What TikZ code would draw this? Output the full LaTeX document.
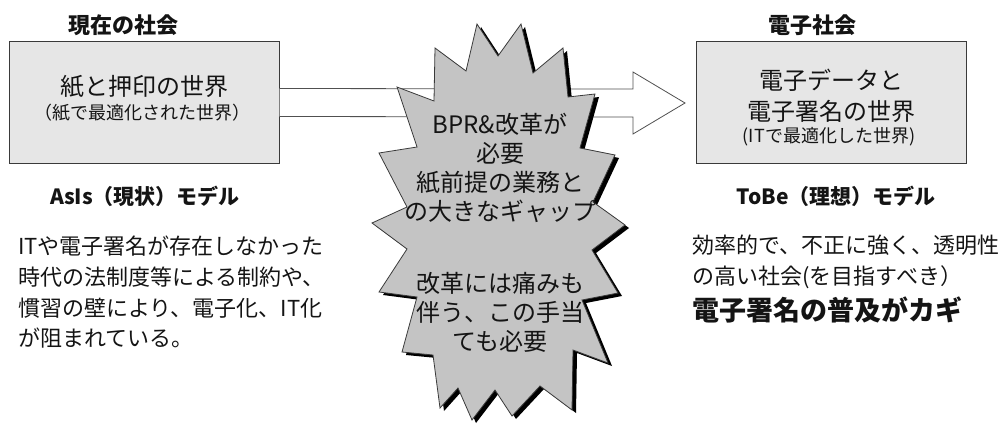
\documentclass[tikz,border=0pt]{standalone}
\usepackage{fontspec}
\setmainfont{Noto Sans CJK JP}
\usetikzlibrary{calc}
\definecolor{boxfill}{HTML}{E6E6E6}
\definecolor{starfill}{HTML}{C4C4C4}
\definecolor{edgec}{HTML}{3A3A3A}
\definecolor{arrowc}{HTML}{505050}
\definecolor{txt}{HTML}{141414}
\begin{document}
\begin{tikzpicture}[x=1pt,y=-1pt,
  box/.style={draw=edgec, fill=boxfill, line width=1pt, minimum width=270pt, minimum height=121pt, inner sep=0pt},
  ttl/.style={font=\fontsize{22}{26}\selectfont\bfseries, text=txt, inner sep=0pt},
  boxbig/.style={font=\fontsize{24}{28}\selectfont, text=txt, inner sep=0pt},
  boxsmall/.style={font=\fontsize{18}{22}\selectfont, text=txt, inner sep=0pt},
  model/.style={font=\fontsize{21}{25}\selectfont\bfseries, text=txt, inner sep=0pt},
  para/.style={font=\fontsize{22}{30.7}\selectfont, text=txt, align=left, inner sep=0pt},
  startext/.style={font=\fontsize{24}{29}\selectfont, text=txt, align=center, inner sep=0pt},
  burst/.pic={\path[pic actions] (435,48) -- (466,71) -- (477,24) -- (498,56) -- (521,24) -- (533,73) -- (563,48) -- (568,97) -- (595,94) -- (580,148) -- (615,155) -- (593,202) -- (625,225) -- (592,250) -- (618,293) -- (582,300) -- (608,363) -- (573,350) -- (572,410) -- (540,386) -- (512,416) -- (495,390) -- (472,420) -- (458,388) -- (440,408) -- (433,355) -- (402,352) -- (417,297) -- (379,292) -- (407,249) -- (372,223) -- (407,207) -- (379,153) -- (417,147) -- (397,87) -- (434,101) -- cycle;}
]
\useasboundingbox (0,0) rectangle (1008,425);

% boxes
\node[box] (L) at (144,102.5) {};
\node[box] (R) at (831,102.5) {};

% titles
\node[ttl] (Lttl) at (123,25) {現在の社会};
\node[ttl] (Rttl) at (812,25) {電子社会};

% box texts
\node[boxbig] (L1) at (144,87) {紙と押印の世界};
\node[boxsmall] (L2) at (142,113) {（紙で最適化された世界）};
\node[boxbig] (R1) at (831,80) {電子データと};
\node[boxbig] (R2) at (831,111) {電子署名の世界};
\node[boxsmall] (R3) at (829,137) {(ITで最適化した世界)};

% big arrow from L toward R
\coordinate (tip) at (685,103);
\draw[draw=arrowc, fill=white, line width=0.8pt]
  ($(L.east)+(0,-14)$) -- (633,89) -- (633,72) -- (tip) -- (633,134) -- (633,117) -- ($(L.east)+(0,14)$);

% starburst with shadow
\pic[fill=black] at (4,3) {burst};
\pic[draw=edgec, fill=starfill, line width=0.8pt] at (0,0) {burst};

\node[startext] (S1) at (500,168) {BPR\&改革が\\必要\\紙前提の業務と\\の大きなギャップ};
\node[startext] (S2) at (500,312) {改革には痛みも\\伴う、この手当\\ても必要};

% models
\node[model] (AsIs) at (145,196) {AsIs（現状）モデル};
\node[model] (ToBe) at (836,196) {ToBe（理想）モデル};

\node[para, anchor=north west] (Lp) at (18,236) {ITや電子署名が存在しなかった\\時代の法制度等による制約や、\\慣習の壁により、電子化、IT化\\が阻まれている。};
\node[para, anchor=north west] (Rp) at (692,235) {効率的で、不正に強く、透明性\\の高い社会(を目指すべき）};
\node[font=\fontsize{27}{31}\selectfont\bfseries, text=txt, inner sep=0pt, anchor=west] (Key) at (692,310) {電子署名の普及がカギ};
\end{tikzpicture}
\end{document}
